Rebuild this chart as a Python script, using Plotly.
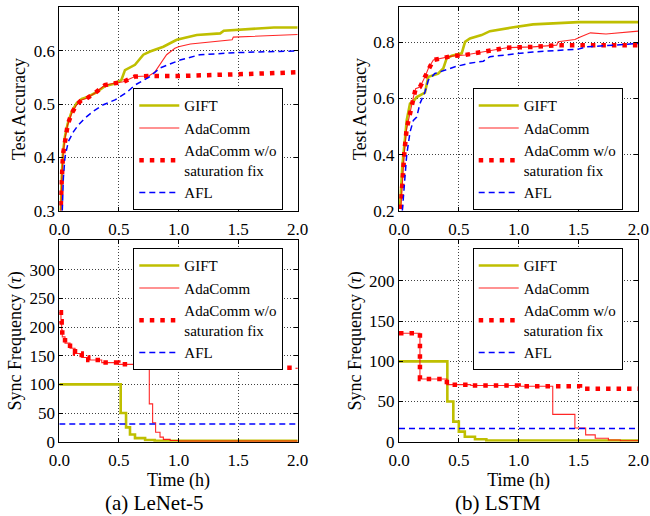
import plotly.graph_objects as go

# ---------------- data ----------------
# (a) LeNet-5 : test accuracy
lenet_gift_t = [0.01, 0.014, 0.02, 0.031, 0.048, 0.07, 0.104, 0.146, 0.188, 0.23, 0.3, 0.383, 0.453, 0.52,
                0.551, 0.635, 0.705, 0.761, 0.873, 0.985, 1.153, 1.35, 1.38, 1.6, 1.8, 2.0]
lenet_gift_acc = [0.30, 0.31, 0.36, 0.41, 0.44, 0.463, 0.486, 0.502, 0.510, 0.513, 0.521, 0.534, 0.538, 0.545,
                  0.564, 0.574, 0.593, 0.599, 0.608, 0.621, 0.630, 0.633, 0.638, 0.641, 0.644, 0.644]
lenet_wo_t = [0.01, 0.014, 0.02, 0.031, 0.048, 0.07, 0.104, 0.146, 0.188, 0.23, 0.3, 0.383, 0.453, 0.537,
              0.635, 0.75, 1.0, 1.25, 1.5, 1.75, 2.0]
lenet_wo_acc = [0.29, 0.305, 0.354, 0.405, 0.436, 0.461, 0.483, 0.499, 0.508, 0.511, 0.521, 0.536, 0.539, 0.542,
                0.552, 0.553, 0.553, 0.554, 0.556, 0.558, 0.56]
lenet_ada_t = [0.01, 0.014, 0.02, 0.031, 0.048, 0.07, 0.104, 0.146, 0.188, 0.23, 0.3, 0.383, 0.453, 0.537,
               0.635, 0.75, 0.8, 0.859, 0.9, 0.97, 1.0, 1.1, 1.45, 1.46, 1.82, 2.0]
lenet_ada_acc = [0.29, 0.305, 0.354, 0.405, 0.436, 0.461, 0.483, 0.499, 0.508, 0.511, 0.521, 0.536, 0.539, 0.542,
                 0.552, 0.553, 0.560, 0.580, 0.593, 0.605, 0.608, 0.613, 0.621, 0.626, 0.630, 0.631]
lenet_afl_t = [0.025, 0.034, 0.048, 0.076, 0.118, 0.16, 0.216, 0.286, 0.37, 0.467, 0.565, 0.635, 0.761,
               0.845, 1.013, 1.18, 1.5, 2.0]
lenet_afl_acc = [0.30, 0.361, 0.401, 0.43, 0.448, 0.461, 0.474, 0.487, 0.499, 0.508, 0.522, 0.536, 0.552,
                 0.568, 0.583, 0.593, 0.597, 0.60]

# (b) LSTM : test accuracy
lstm_gift_t = [0.008, 0.028, 0.05, 0.064, 0.092, 0.12, 0.148, 0.217, 0.245, 0.328, 0.37, 0.398, 0.44, 0.524,
               0.552, 0.593, 0.69, 0.76, 0.93, 1.12, 1.5, 2.0]
lstm_gift_acc = [0.206, 0.361, 0.457, 0.522, 0.582, 0.59, 0.605, 0.621, 0.677, 0.689, 0.707, 0.743, 0.752, 0.761,
                 0.802, 0.814, 0.826, 0.84, 0.852, 0.864, 0.872, 0.872]
lstm_wo_t = [0.015, 0.028, 0.045, 0.064, 0.092, 0.12, 0.139, 0.175, 0.217, 0.245, 0.287, 0.356, 0.44, 0.552,
             0.635, 0.705, 0.76, 0.9, 1.12, 1.318, 1.6, 2.0]
lstm_wo_acc = [0.206, 0.313, 0.409, 0.492, 0.552, 0.605, 0.635, 0.641, 0.677, 0.707, 0.737, 0.743, 0.751, 0.755,
               0.761, 0.766, 0.772, 0.781, 0.784, 0.79, 0.79, 0.79]
lstm_ada_t = [0.015, 0.028, 0.045, 0.064, 0.092, 0.12, 0.139, 0.175, 0.217, 0.245, 0.287, 0.356, 0.44, 0.552,
              0.635, 0.705, 0.76, 0.9, 1.12, 1.318, 1.33, 1.47, 1.52, 1.6, 1.73, 1.87, 2.0]
lstm_ada_acc = [0.206, 0.313, 0.409, 0.492, 0.552, 0.605, 0.635, 0.641, 0.677, 0.707, 0.737, 0.743, 0.751, 0.755,
                0.761, 0.766, 0.772, 0.781, 0.784, 0.79, 0.802, 0.81, 0.82, 0.834, 0.83, 0.836, 0.84]
lstm_afl_t = [0.028, 0.05, 0.064, 0.092, 0.12, 0.148, 0.175, 0.217, 0.245, 0.3, 0.384, 0.468, 0.58, 0.705,
              0.76, 0.93, 1.12, 1.5, 1.57, 2.0]
lstm_afl_acc = [0.2, 0.325, 0.397, 0.48, 0.522, 0.534, 0.582, 0.623, 0.665, 0.689, 0.701, 0.713, 0.725, 0.733,
                0.749, 0.757, 0.766, 0.776, 0.784, 0.796]

# (a) LeNet-5 : sync frequency tau
lenet_gift_tau_t = [0, 0.515, 0.56, 0.593, 0.635, 0.72, 0.8, 2.0]
lenet_gift_tau = [100, 50, 25, 12.5, 6.25, 3, 1.5, 1.5]
lenet_wo_tau_t = [0, 0.008, 0.014, 0.02, 0.025, 0.048, 0.09, 0.132, 0.188, 0.243, 0.356, 0.495, 0.747,
                  1.0, 1.5, 2.0]
lenet_wo_tau = [226, 226, 210, 195, 183, 172, 163, 154, 147, 142.6, 138, 135, 132.6, 130, 129, 127.5]
lenet_ada_tau_t = [0, 0.008, 0.014, 0.02, 0.025, 0.048, 0.09, 0.132, 0.188, 0.243, 0.356, 0.495, 0.747,
                   0.755, 0.783, 0.808, 0.845, 0.873, 0.93, 1.0, 2.0]
lenet_ada_tau = [226, 226, 210, 195, 183, 172, 163, 154, 147, 142.6, 138, 135, 132.6,
                 66, 33, 16.5, 8, 4, 2, 1, 1]
lenet_afl_tau_t = [0, 2.0]
lenet_afl_tau = [31, 31]

# (b) LSTM : sync frequency tau
lstm_gift_tau_t = [0, 0.404, 0.454, 0.5, 0.55, 0.635, 0.73, 2.0]
lstm_gift_tau = [100, 50, 25, 12.5, 6.25, 3, 1.5, 1.5]
lstm_wo_tau_t = [0, 0.175, 0.4, 0.6, 1.0, 1.3, 1.513, 2.0]
lstm_wo_tau = [135, 78, 71, 70, 69, 69, 66, 66]
lstm_ada_tau_t = [0, 0.175, 0.4, 0.6, 1.0, 1.285, 1.47, 1.56, 1.64, 1.75, 1.85, 2.0]
lstm_ada_tau = [135, 78, 71, 70, 69, 34, 17, 8.5, 4.3, 2.2, 1.1, 1.1]
lstm_afl_tau_t = [0, 2.0]
lstm_afl_tau = [16.5, 16.5]

series_names = ["GIFT", "AdaComm", "AdaComm w/o<br>saturation fix", "AFL"]
x_ticks = [0.0, 0.5, 1.0, 1.5, 2.0]
x_ticklabels = ["0.0", "0.5", "1.0", "1.5", "2.0"]
captions = ["(a) LeNet-5", "(b) LSTM"]

# ---------------- styles ----------------
FONT = "Liberation Serif, Times New Roman, serif"
styles = [
    dict(color="#bfbf00", width=2.6),
    dict(color="rgba(255,0,0,0.85)", width=1.1),
    dict(color="#ff0000", width=4.5, dash="4.5px,6px"),
    dict(color="#0000ff", width=1.5, dash="6px,4px"),
]

W, H = 650, 516
def px_x(a, b):
    return [a / W, b / W]
def px_y(top, bottom):
    return [1 - bottom / H, 1 - top / H]

fig = go.Figure()

panels = [
    ("x", "y", "legend",
     [(lenet_gift_t, lenet_gift_acc), (lenet_ada_t, lenet_ada_acc), (lenet_wo_t, lenet_wo_acc), (lenet_afl_t, lenet_afl_acc)],
     "linear"),
    ("x2", "y2", "legend2",
     [(lstm_gift_t, lstm_gift_acc), (lstm_ada_t, lstm_ada_acc), (lstm_wo_t, lstm_wo_acc), (lstm_afl_t, lstm_afl_acc)],
     "linear"),
    ("x3", "y3", "legend3",
     [(lenet_gift_tau_t, lenet_gift_tau), (lenet_ada_tau_t, lenet_ada_tau), (lenet_wo_tau_t, lenet_wo_tau), (lenet_afl_tau_t, lenet_afl_tau)],
     "hv"),
    ("x4", "y4", "legend4",
     [(lstm_gift_tau_t, lstm_gift_tau), (lstm_ada_tau_t, lstm_ada_tau), (lstm_wo_tau_t, lstm_wo_tau), (lstm_afl_tau_t, lstm_afl_tau)],
     "hv"),
]

for xa, ya, lg, data, shape in panels:
    for name, (t, v), st in zip(series_names, data, styles):
        fig.add_trace(go.Scatter(x=t, y=v, mode="lines", name=name, xaxis=xa, yaxis=ya,
                                 legend=lg, line=dict(shape=shape, **st)))

axis_common = dict(showline=True, linecolor="black", linewidth=1, mirror="allticks",
                   ticks="inside", ticklen=4, tickcolor="black", showgrid=True,
                   gridcolor="rgba(0,0,0,0.75)", griddash="1px,2px", gridwidth=1,
                   zeroline=False, automargin=False,
                   tickfont=dict(family=FONT, size=17, color="black"))
xaxis_common = dict(axis_common, ticklabelstandoff=3)

xl = px_x(59.3, 297.7)
xr = px_x(399, 638.3)
yt = px_y(7.3, 210.7)
yb = px_y(240, 441.7)

title_font = dict(family=FONT, size=18, color="black")

fig.update_layout(
    width=W, height=H, margin=dict(l=0, r=0, t=0, b=0),
    paper_bgcolor="white", plot_bgcolor="white",
    font=dict(family=FONT, size=16, color="black"),
    xaxis=dict(domain=xl, anchor="y", range=[0, 2], tickvals=x_ticks, ticktext=x_ticklabels, **xaxis_common),
    yaxis=dict(domain=yt, anchor="x", range=[0.3, 0.682], tickvals=[0.3, 0.4, 0.5, 0.6],
               ticktext=["0.3", "0.4", "0.5", "0.6"],
               title=dict(text="Test Accuracy", font=title_font, standoff=3), **axis_common),
    xaxis2=dict(domain=xr, anchor="y2", range=[0, 2], tickvals=x_ticks, ticktext=x_ticklabels, **xaxis_common),
    yaxis2=dict(domain=yt, anchor="x2", range=[0.2, 0.925], tickvals=[0.2, 0.4, 0.6, 0.8],
                ticktext=["0.2", "0.4", "0.6", "0.8"],
                title=dict(text="Test Accuracy", font=title_font, standoff=2), **axis_common),
    xaxis3=dict(domain=xl, anchor="y3", range=[0, 2], tickvals=x_ticks, ticktext=x_ticklabels,
                title=dict(text="Time (h)", font=title_font, standoff=4), **xaxis_common),
    yaxis3=dict(domain=yb, anchor="x3", range=[0, 352], tickvals=[0, 50, 100, 150, 200, 250, 300],
                title=dict(text="Sync Frequency (<i>τ</i>)", font=title_font, standoff=3), **axis_common),
    xaxis4=dict(domain=xr, anchor="y4", range=[0, 2], tickvals=x_ticks, ticktext=x_ticklabels,
                title=dict(text="Time (h)", font=title_font, standoff=4), **xaxis_common),
    yaxis4=dict(domain=yb, anchor="x4", range=[0, 251], tickvals=[0, 50, 100, 150, 200],
                title=dict(text="Sync Frequency (<i>τ</i>)", font=title_font, standoff=2), **axis_common),
)

legend_common = dict(bgcolor="white", bordercolor="black", borderwidth=1,
                     font=dict(family=FONT, size=15, color="black"), itemwidth=40,
                     xanchor="left", yanchor="top", traceorder="normal")
fig.update_layout(
    legend=dict(x=133.3 / W, y=1 - 88.3 / H, **legend_common),
    legend2=dict(x=472.7 / W, y=1 - 88.3 / H, **legend_common),
    legend3=dict(x=133.3 / W, y=1 - 248.3 / H, **legend_common),
    legend4=dict(x=472.7 / W, y=1 - 248.3 / H, **legend_common),
)

for cap, cx in zip(captions, [154, 498]):
    fig.add_annotation(text=cap, x=cx / W, y=1 - 503 / H, xref="paper", yref="paper",
                       showarrow=False, font=dict(family=FONT, size=21, color="black"),
                       xanchor="center", yanchor="middle")

fig.write_html("out.html", config={"displayModeBar": False},
               post_script="document.body.style.margin='0px';document.body.style.overflow='hidden';")
